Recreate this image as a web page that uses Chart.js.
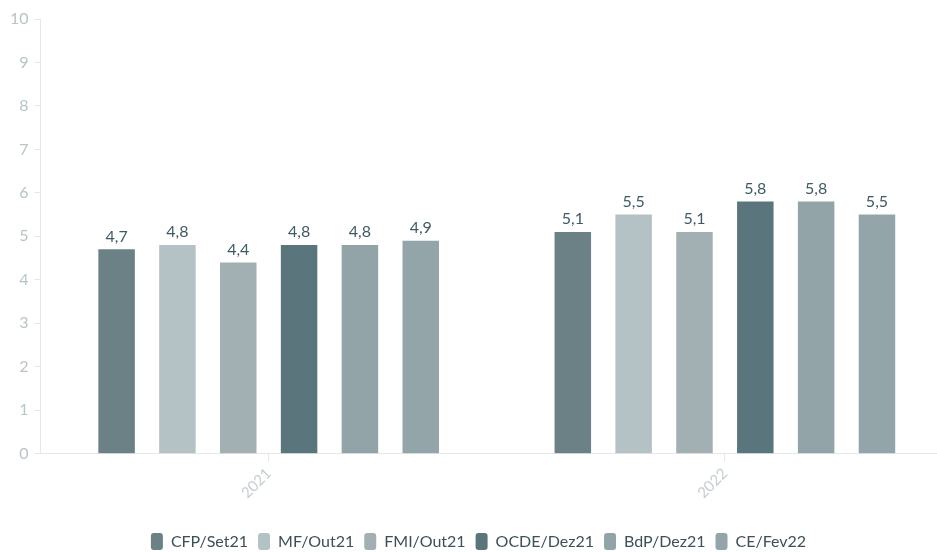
<!DOCTYPE html>
<html>
<head>
    <meta charset="utf-8">
    <title>Previsões</title>
    <style>
        body {
            margin: 0;
            background: #ffffff;
            overflow: hidden;
        }
        .chart-box {
            width: 960px;
            height: 560px;
        }
    </style>
    <script src="https://cdn.jsdelivr.net/npm/chart.js@4.4.1/dist/chart.umd.min.js"></script>
</head>
<body>
    <div class="chart-box">
        <canvas id="chart"></canvas>
    </div>
    <script>
        const years = ['2021', '2022'];
        const sources = ['CFP/Set21', 'MF/Out21', 'FMI/Out21', 'OCDE/Dez21', 'BdP/Dez21', 'CE/Fev22'];
        const cfp = [4.7, 5.1];
        const mf = [4.8, 5.5];
        const fmi = [4.4, 5.1];
        const ocde = [4.8, 5.8];
        const bdp = [4.8, 5.8];
        const ce = [4.9, 5.5];
        const colors = ['#6b8185', '#b4c2c6', '#a2b0b4', '#5a757c', '#93a4a9', '#94a5a9'];

        const seriesValues = [cfp, mf, fmi, ocde, bdp, ce];

        // draws the value above each bar, with a comma as decimal mark
        const valueLabels = {
            id: 'valueLabels',
            afterDatasetsDraw(chart) {
                const c = chart.ctx;
                c.save();
                c.font = '16px Lato';
                c.fillStyle = '#3f5a62';
                c.textAlign = 'center';
                c.textBaseline = 'bottom';
                chart.data.datasets.forEach((ds, i) => {
                    chart.getDatasetMeta(i).data.forEach((bar, j) => {
                        const txt = ds.data[j].toFixed(1).replace('.', ',');
                        c.fillText(txt, bar.x, bar.y - 5);
                    });
                });
                c.restore();
            }
        };

        new Chart(document.getElementById('chart'), {
            type: 'bar',
            data: {
                labels: years,
                datasets: sources.map((name, i) => ({
                    label: name,
                    data: seriesValues[i],
                    backgroundColor: colors[i],
                    categoryPercentage: 0.8,
                    barPercentage: 0.6
                }))
            },
            options: {
                responsive: true,
                maintainAspectRatio: false,
                animation: false,
                layout: {
                    padding: { top: 19, right: 7, left: 4, bottom: 0 }
                },
                plugins: {
                    legend: {
                        position: 'bottom',
                        labels: {
                            boxWidth: 12,
                            boxHeight: 17,
                            useBorderRadius: true,
                            borderRadius: 3,
                            padding: 10,
                            color: '#3d5056',
                            font: { family: 'Lato', size: 16 }
                        }
                    },
                    tooltip: { enabled: false }
                },
                scales: {
                    x: {
                        afterFit(scale) {
                            scale.height += 18;
                        },
                        grid: {
                            offset: false,
                            drawOnChartArea: false,
                            drawTicks: true,
                            tickLength: 8,
                            color: '#e3e9eb'
                        },
                        border: { display: true, color: '#e3e9eb' },
                        ticks: {
                            minRotation: 45,
                            maxRotation: 45,
                            color: '#c3ced1',
                            font: { family: 'Lato', size: 15 }
                        }
                    },
                    y: {
                        min: 0,
                        max: 10,
                        grid: {
                            drawOnChartArea: false,
                            drawTicks: true,
                            tickLength: 6,
                            color: '#e3e9eb'
                        },
                        border: { display: true, color: '#e3e9eb' },
                        ticks: {
                            stepSize: 1,
                            padding: 6,
                            color: '#b8c4c8',
                            font: { family: 'Lato', size: 16 }
                        }
                    }
                }
            },
            plugins: [valueLabels]
        });
    </script>
</body>
</html>
